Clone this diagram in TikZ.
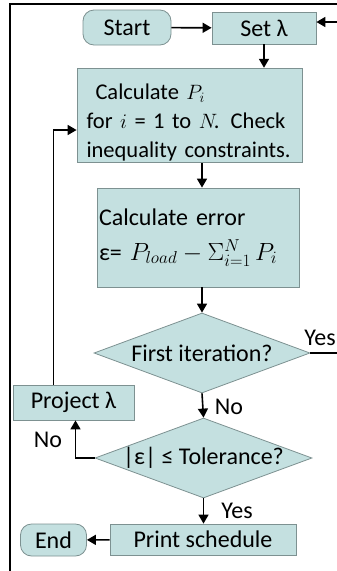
\documentclass[tikz,border=0pt]{standalone}
\usepackage{fontspec}
\setmainfont{Carlito}
\usepackage{tikz}
\usetikzlibrary{shapes.geometric,arrows.meta}

\definecolor{boxfill}{RGB}{196,224,224}
\definecolor{boxline}{RGB}{125,145,145}

\tikzset{
  procbox/.style={draw=boxline, fill=boxfill, line width=0.8pt, inner sep=2pt},
  termbox/.style={procbox, rounded corners=11pt},
  testbox/.style={draw=boxline, fill=boxfill, line width=0.8pt, diamond, inner sep=0pt},
  flow/.style={line width=1.6pt, -{Triangle[length=9pt,width=10pt]}},
  tag/.style={inner sep=0pt}
}

\begin{document}
\begin{tikzpicture}[x=1pt, y=-1pt, font=\fontsize{24}{29}\selectfont]
        \useasboundingbox (0,0) rectangle (337,571);
        % Khung
        \draw[line width=2.5pt] (10,571) -- (10,4) -- (337,4);
        % Hàng đầu
        \node[termbox, minimum width=88pt, minimum height=35pt] (start) at (127,27.5) {Start};
        \node[procbox, minimum width=104pt, minimum height=32pt] (setl) at (264,28) {Set λ};
        % Các bước tính
        \node[procbox, minimum width=225pt, minimum height=94pt, text width=206pt, align=left,
              font=\fontsize{22.5}{29}\selectfont] (calcp) at (189.5,115.5)
            {\rule{0pt}{29pt}\hspace*{9pt}Calculate $P_i$\\ for $i$ = 1 to $N\!$. Check\\ inequality constraints.};
        \node[procbox, minimum width=202pt, minimum height=99pt, text width=198pt, align=left] (calce) at (198,237.5)
            {Calculate error\\[6pt] ε= $P_{load}-\Sigma_{i=1}^{N}\,P_i$};
        % Các điều kiện
        \node[testbox, minimum width=216pt, minimum height=80pt] (first) at (202,353)
            {\makebox[0pt]{First iteration?}};
        \node[testbox, minimum width=217pt, minimum height=80pt] (tol) at (203.5,458)
            {\makebox[0pt]{|ε| ≤ Tolerance?}};
        \node[procbox, minimum width=121pt, minimum height=35pt] (proj) at (73.5,402.5) {Project λ};
        % Hàng cuối
        \node[procbox, minimum width=186pt, minimum height=31pt] (print) at (203,539.5) {Print schedule};
        \node[termbox, minimum width=66pt, minimum height=32pt] (end) at (53.5,540) {End};
        % Nhãn
        \node[tag] (yes1) at (320,338) {Yes};
        \node[tag] (no1) at (229,407) {No};
        \node[tag] (no2) at (48,440) {No};
        \node[tag] (yes2) at (237,511) {Yes};
        % Đầu tự do ở mép phải
        \coordinate (rin) at (337,22);
        \coordinate (rout) at (337,353);
        % Mũi tên
        \draw[flow] (start) -- (setl);
        \draw[flow] (rin) -- (rin -| setl.east);
        \draw[flow] (setl.south) -- (setl.south |- calcp.north);
        \draw[flow] (calcp.south -| first) -- (calce.north -| first);
        \draw[flow] (calce.south -| first) -- (first.north);
        \draw[line width=1.6pt] (first.east) -- (rout);
        \draw[flow] (first.south) -- (tol.north);
        \draw[flow] (tol.south) -- (print.north -| tol);
        \draw[flow] (print) -- (end);
        \draw[flow] (tol.west) -| ([xshift=2pt]proj.south);
        \draw[flow] ([xshift=-20pt]proj.north) |- ([yshift=-14.5pt]calcp.west);
\end{tikzpicture}
\end{document}
